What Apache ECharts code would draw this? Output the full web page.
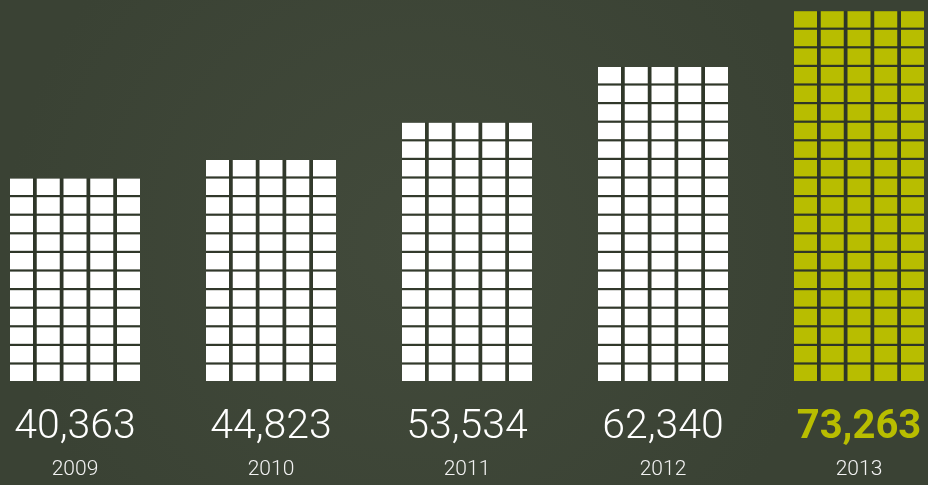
<!DOCTYPE html>
<html>
<head>
<meta charset="utf-8">
<script src="https://cdn.jsdelivr.net/npm/echarts@6/dist/echarts.min.js"></script>
<style>
  html, body { margin: 0; padding: 0; background: #3e4638; }
  #chart { width: 928px; height: 485px; }
</style>
</head>
<body>
<div id="chart"></div>
<script>
// Yearly totals, one block column per year
const years = ['2009', '2010', '2011', '2012', '2013'];
const totals = [40363, 44823, 53534, 62340, 73263];
const highlightIndex = 4;

// Block geometry (pixels)
const COLS = 5;
const CELL_W = 23;
const GAP_X = 3.75;
const CELL_H = 16.4;
const GAP_Y = 2.2;
const ROW_PITCH = CELL_H + GAP_Y;

const WHITE = '#ffffff';
const LIME = '#b8bd00';

const fmt = n => n.toLocaleString('en-US');

const chart = echarts.init(document.getElementById('chart'));

chart.setOption({
  backgroundColor: {
    type: 'radial', x: 0.45, y: 0.5, r: 0.85,
    colorStops: [
      { offset: 0, color: '#424a3b' },
      { offset: 1, color: '#3a4234' }
    ]
  },
  animation: false,
  grid: { left: 75, right: 69, top: 0, bottom: 104 },
  xAxis: {
    type: 'category',
    data: years,
    boundaryGap: false,
    axisLine: { show: false },
    axisTick: { show: false },
    axisLabel: {
      margin: 26,
      interval: 0,
      formatter: (val, idx) => {
        const key = idx === highlightIndex ? 'h' : 'v';
        return '{' + key + '|' + fmt(totals[idx]) + '}\n{y|' + val + '}';
      },
      rich: {
        v: {
          fontFamily: 'Roboto', fontWeight: 300, fontSize: 41,
          color: '#ffffff', lineHeight: 42, align: 'center'
        },
        h: {
          fontFamily: 'Roboto', fontWeight: 'bold', fontSize: 40,
          color: LIME, lineHeight: 42, align: 'center'
        },
        y: {
          fontFamily: 'Roboto', fontWeight: 300, fontSize: 21,
          color: '#f2f2f2', lineHeight: 42, align: 'center'
        }
      }
    }
  },
  yAxis: {
    type: 'value',
    min: 0,
    max: 75000,
    show: false,
    splitLine: { show: false }
  },
  series: [{
    type: 'custom',
    data: totals.map((v, i) => [i, v]),
    encode: { x: 0, y: 1 },
    renderItem: (params, api) => {
      const i = api.value(0);
      const v = api.value(1);
      const base = api.coord([i, 0]);
      const top = api.coord([i, v]);
      const rows = Math.max(1, Math.floor((base[1] - top[1] + GAP_Y) / ROW_PITCH));
      const totalW = COLS * CELL_W + (COLS - 1) * GAP_X;
      const left = base[0] - totalW / 2;
      const color = i === highlightIndex ? LIME : WHITE;
      const children = [{
        // darker backing so the gaps read slightly deeper than the background
        type: 'rect',
        shape: { x: left, y: base[1] - rows * ROW_PITCH + GAP_Y, width: totalW, height: rows * ROW_PITCH - GAP_Y },
        style: { fill: 'rgba(20,26,14,0.3)' }
      }];
      for (let r = 0; r < rows; r++) {
        const y = base[1] - r * ROW_PITCH - CELL_H;
        for (let c = 0; c < COLS; c++) {
          children.push({
            type: 'rect',
            shape: { x: left + c * (CELL_W + GAP_X), y: y, width: CELL_W, height: CELL_H },
            style: { fill: color }
          });
        }
      }
      return { type: 'group', children: children };
    }
  }]
});
</script>
</body>
</html>
